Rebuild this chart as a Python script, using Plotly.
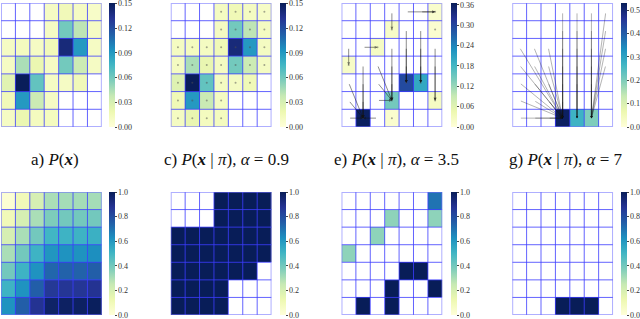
import plotly.graph_objects as go

W, H = 640, 319

# ---------------- data ----------------
P_x = [
    [0, 0, 0, 0.010, 0.015, 0.010, 0.008],
    [0, 0, 0, 0.010, 0.060, 0.040, 0.010],
    [0.010, 0.012, 0.010, 0.015, 0.140, 0.090, 0.010],
    [0.010, 0.045, 0.020, 0.010, 0.060, 0.035, 0.010],
    [0.025, 0.150, 0.065, 0.010, 0.010, 0.015, 0],
    [0.015, 0.090, 0.035, 0.010, 0, 0, 0],
    [0.010, 0.020, 0.012, 0.012, 0, 0, 0],
]
P_pi_09 = [
    [0, 0, 0, 0.011, 0.016, 0.011, 0.009],
    [0, 0, 0, 0.011, 0.060, 0.040, 0.011],
    [0.011, 0.012, 0.011, 0.016, 0.140, 0.090, 0.011],
    [0.011, 0.045, 0.021, 0.011, 0.060, 0.035, 0.011],
    [0.026, 0.150, 0.065, 0.011, 0.011, 0.016, 0],
    [0.016, 0.090, 0.036, 0.011, 0, 0, 0],
    [0.011, 0.021, 0.012, 0.012, 0, 0, 0],
]
P_pi_35 = [
    [0, 0, 0, 0, 0, 0, 0.015],
    [0, 0, 0, 0.020, 0, 0, 0.010],
    [0, 0, 0.025, 0, 0, 0, 0],
    [0.020, 0, 0, 0, 0, 0, 0],
    [0, 0, 0, 0, 0.295, 0.200, 0],
    [0, 0, 0, 0.145, 0, 0, 0.025],
    [0, 0.360, 0, 0.012, 0, 0, 0],
]
P_pi_7 = [
    [0, 0, 0, 0, 0, 0, 0],
    [0, 0, 0, 0, 0, 0, 0],
    [0, 0, 0, 0, 0, 0, 0],
    [0, 0, 0, 0, 0, 0, 0],
    [0, 0, 0, 0, 0, 0, 0],
    [0, 0, 0, 0, 0, 0, 0],
    [0, 0, 0, 0.520, 0.270, 0.200, 0],
]
CDF_x = [
    [0.02, 0.10, 0.20, 0.30, 0.31, 0.31, 0.31],
    [0.10, 0.20, 0.30, 0.38, 0.40, 0.40, 0.40],
    [0.20, 0.30, 0.40, 0.50, 0.51, 0.51, 0.52],
    [0.30, 0.40, 0.51, 0.61, 0.62, 0.62, 0.63],
    [0.40, 0.51, 0.62, 0.73, 0.74, 0.74, 0.75],
    [0.51, 0.62, 0.75, 0.86, 0.87, 0.87, 0.88],
    [0.62, 0.75, 0.88, 0.97, 0.98, 0.98, 0.99],
]
T_09 = [
    [0, 0, 0, 1, 1, 1, 1],
    [0, 0, 0, 1, 1, 1, 1],
    [1, 1, 1, 1, 1, 1, 1],
    [1, 1, 1, 1, 1, 1, 1],
    [1, 1, 1, 1, 1, 1, 0],
    [1, 1, 1, 1, 0, 0, 0],
    [1, 1, 1, 1, 0, 0, 0],
]
T_35 = [
    [0, 0, 0, 0, 0, 0, 0.70],
    [0, 0, 0, 0.35, 0, 0, 0.35],
    [0, 0, 0.35, 0, 0, 0, 0],
    [0.35, 0, 0, 0, 0, 0, 0],
    [0, 0, 0, 0, 1, 1, 0],
    [0, 0, 0, 1, 0, 0, 1],
    [0, 1, 0, 1, 0, 0, 0],
]
T_7 = [
    [0, 0, 0, 0, 0, 0, 0],
    [0, 0, 0, 0, 0, 0, 0],
    [0, 0, 0, 0, 0, 0, 0],
    [0, 0, 0, 0, 0, 0, 0],
    [0, 0, 0, 0, 0, 0, 0],
    [0, 0, 0, 0, 0, 0, 0],
    [0, 0, 0, 1, 1, 1, 0],
]

# arrows (source cell -> destination cell), (row, col)
arrows_35_src = [(0, 4), (0, 5), (0, 3), (2, 0), (2, 1),
                 (1, 4), (2, 4), (3, 4), (1, 5), (2, 5), (3, 5),
                 (2, 6), (3, 6),
                 (2, 3), (3, 2), (3, 3), (4, 2), (4, 3), (5, 2),
                 (3, 1), (4, 1), (5, 1), (4, 0), (5, 0), (6, 0), (6, 2)]
arrows_35_dst = [(0, 6), (0, 6), (1, 3), (3, 0), (2, 2),
                 (4, 4), (4, 4), (4, 4), (4, 5), (4, 5), (4, 5),
                 (5, 6), (5, 6),
                 (5, 3), (5, 3), (5, 3), (5, 3), (5, 3), (5, 3),
                 (6, 1), (6, 1), (6, 1), (6, 1), (6, 1), (6, 1), (6, 1)]

arrows_7_src = [(0, 3), (1, 3), (2, 3), (3, 3), (4, 3), (5, 3),
                (0, 4), (1, 4), (2, 4), (3, 4), (4, 4),
                (0, 5), (1, 5), (2, 5), (3, 5), (4, 5),
                (0, 6), (1, 6), (2, 6), (3, 6),
                (2, 0), (2, 1), (2, 2), (3, 0), (3, 1), (3, 2),
                (4, 0), (4, 1), (4, 2), (5, 0), (5, 1), (5, 2),
                (6, 0), (6, 1), (6, 2)]
arrows_7_dst = [(6, 3)] * 6 + [(6, 4)] * 5 + [(6, 5)] * 5 + [(6, 5)] * 4 + [(6, 3)] * 15

captions = ["a) <i>P</i>(<b><i>x</i></b>)",
            "c) <i>P</i>(<b><i>x</i></b> | <i>π</i>), <i>α</i> = 0.9",
            "e) <i>P</i>(<b><i>x</i></b> | <i>π</i>), <i>α</i> = 3.5",
            "g) <i>P</i>(<b><i>x</i></b> | <i>π</i>), <i>α</i> = 7"]

top_ticks = [[0.00, 0.03, 0.06, 0.09, 0.12, 0.15],
             [0.00, 0.03, 0.06, 0.09, 0.12, 0.15],
             [0.00, 0.06, 0.12, 0.18, 0.24, 0.30, 0.36],
             [0.0, 0.1, 0.2, 0.3, 0.4, 0.5]]
top_ticktext = [["0.00", "0.03", "0.06", "0.09", "0.12", "0.15"],
                ["0.00", "0.03", "0.06", "0.09", "0.12", "0.15"],
                ["0.00", "0.06", "0.12", "0.18", "0.24", "0.30", "0.36"],
                ["0.0", "0.1", "0.2", "0.3", "0.4", "0.5"]]
top_zmax = [0.1505, 0.1505, 0.365, 0.53]
bot_ticks = [0.0, 0.2, 0.4, 0.6, 0.8, 1.0]
bot_ticktext = ["0.0", "0.2", "0.4", "0.6", "0.8", "1.0"]

YLGNBU = [[0.0, "#ffffd9"], [0.125, "#edf8b1"], [0.25, "#c7e9b4"], [0.375, "#7fcdbb"],
          [0.5, "#41b6c4"], [0.625, "#1d91c0"], [0.75, "#225ea8"], [0.875, "#253494"],
          [1.0, "#081d58"]]

# ---------------- layout geometry (pixels) ----------------
panel_x0 = [1, 171, 342, 513]
panel_w = 101
cbar_x0 = [109, 280, 451, 621]
row_y = [(3, 127), (192, 315)]  # top, bottom in px from top

FONT = "Liberation Serif"
fig = go.Figure()
layout = {}
shapes = []
annotations = []

top_data = [P_x, P_pi_09, P_pi_35, P_pi_7]
bot_data = [CDF_x, T_09, T_35, T_7]


def mask(z):
    return [[(v if v > 0 else None) for v in row] for row in z]


idx = 0
for r in range(2):
    for c in range(4):
        idx += 1
        xa = "x" if idx == 1 else f"x{idx}"
        ya = "y" if idx == 1 else f"y{idx}"
        xkey = "xaxis" if idx == 1 else f"xaxis{idx}"
        ykey = "yaxis" if idx == 1 else f"yaxis{idx}"
        y_top, y_bot = row_y[r]
        dom_x = [panel_x0[c] / W, (panel_x0[c] + panel_w) / W]
        dom_y = [1 - y_bot / H, 1 - y_top / H]
        layout[xkey] = dict(domain=dom_x, range=[-0.5, 6.5], showgrid=False, zeroline=False,
                            showticklabels=False, ticks="", anchor=ya, fixedrange=True)
        layout[ykey] = dict(domain=dom_y, range=[6.5, -0.5], showgrid=False, zeroline=False,
                            showticklabels=False, ticks="", anchor=xa, fixedrange=True)
        if r == 0:
            z = top_data[c]
            zmax = top_zmax[c]
            tv, tt = top_ticks[c], top_ticktext[c]
        else:
            z = bot_data[c]
            zmax = 1.0005
            tv, tt = bot_ticks, bot_ticktext
        fig.add_trace(go.Heatmap(
            z=mask(z), x=list(range(7)), y=list(range(7)), xaxis=xa, yaxis=ya,
            colorscale=YLGNBU, zmin=0, zmax=zmax, hoverongaps=False,
            colorbar=dict(x=cbar_x0[c] / W, xanchor="left", xpad=0, ypad=0,
                          y=1 - (y_top + y_bot) / 2 / H, yanchor="middle",
                          len=(y_bot - y_top) / H, lenmode="fraction",
                          thickness=6, outlinewidth=0, ticks="outside", ticklen=2,
                          tickwidth=0.6, tickcolor="#444", ticklabeloverflow="allow",
                          tickvals=tv, ticktext=tt,
                          tickfont=dict(family=FONT, size=8, color="#333"))))
        # grid lines
        for k in range(1, 7):
            shapes.append(dict(type="line", xref=xa, yref=ya, x0=k - 0.5, x1=k - 0.5,
                               y0=-0.5, y1=6.5, line=dict(color="rgba(60,60,255,0.8)", width=1),
                               layer="above"))
            shapes.append(dict(type="line", xref=xa, yref=ya, y0=k - 0.5, y1=k - 0.5,
                               x0=-0.5, x1=6.5, line=dict(color="rgba(60,60,255,0.8)", width=1),
                               layer="above"))
        shapes.append(dict(type="rect", xref=xa, yref=ya, x0=-0.5, x1=6.5, y0=-0.5, y1=6.5,
                           line=dict(color="rgba(110,110,255,0.55)", width=2), layer="above"))

        # dots in panel c (near-zero-length arrows)
        if r == 0 and c == 1:
            pts = [(i, j) for i in range(7) for j in range(7) if P_pi_09[i][j] > 0]
            fig.add_trace(go.Scatter(x=[p[1] for p in pts], y=[p[0] for p in pts], xaxis=xa, yaxis=ya,
                                     mode="markers", marker=dict(size=2, color="rgba(80,80,80,0.5)"),
                                     showlegend=False, hoverinfo="skip"))
        if r == 0 and c == 2:
            sinks = [(i, j) for i in range(7) for j in range(7) if P_pi_35[i][j] > 0]
            fig.add_trace(go.Scatter(x=[p[1] for p in sinks], y=[p[0] for p in sinks], xaxis=xa, yaxis=ya,
                                     mode="markers", marker=dict(size=2, color="rgba(80,80,80,0.5)"),
                                     showlegend=False, hoverinfo="skip"))
            for s, d in zip(arrows_35_src, arrows_35_dst):
                annotations.append(dict(xref=xa, yref=ya, axref=xa, ayref=ya,
                                        x=d[1], y=d[0], ax=s[1], ay=s[0], text="",
                                        showarrow=True, arrowhead=2, arrowsize=0.7,
                                        arrowwidth=0.8, arrowcolor="rgba(20,20,20,0.6)"))
        if r == 0 and c == 3:
            for s, d in zip(arrows_7_src, arrows_7_dst):
                annotations.append(dict(xref=xa, yref=ya, axref=xa, ayref=ya,
                                        x=d[1], y=d[0], ax=s[1], ay=s[0], text="",
                                        showarrow=True, arrowhead=2, arrowsize=0.6,
                                        arrowwidth=0.7, arrowcolor="rgba(20,20,20,0.45)"))

caption_cx = [55, 227, 397, 567]
for c in range(4):
    annotations.append(dict(xref="paper", yref="paper", x=caption_cx[c] / W, y=1 - 160 / H,
                            xanchor="center", yanchor="middle", showarrow=False, text=captions[c],
                            font=dict(family=FONT, size=17, color="#111")))

layout.update(dict(width=W, height=H, margin=dict(l=0, r=0, t=0, b=0),
                   paper_bgcolor="white", plot_bgcolor="white", showlegend=False,
                   shapes=shapes, annotations=annotations,
                   font=dict(family=FONT)))
fig.update_layout(**layout)
fig.write_html("out.html", config={"displayModeBar": False},
               post_script="document.body.style.margin='0';document.body.style.overflow='hidden';")
